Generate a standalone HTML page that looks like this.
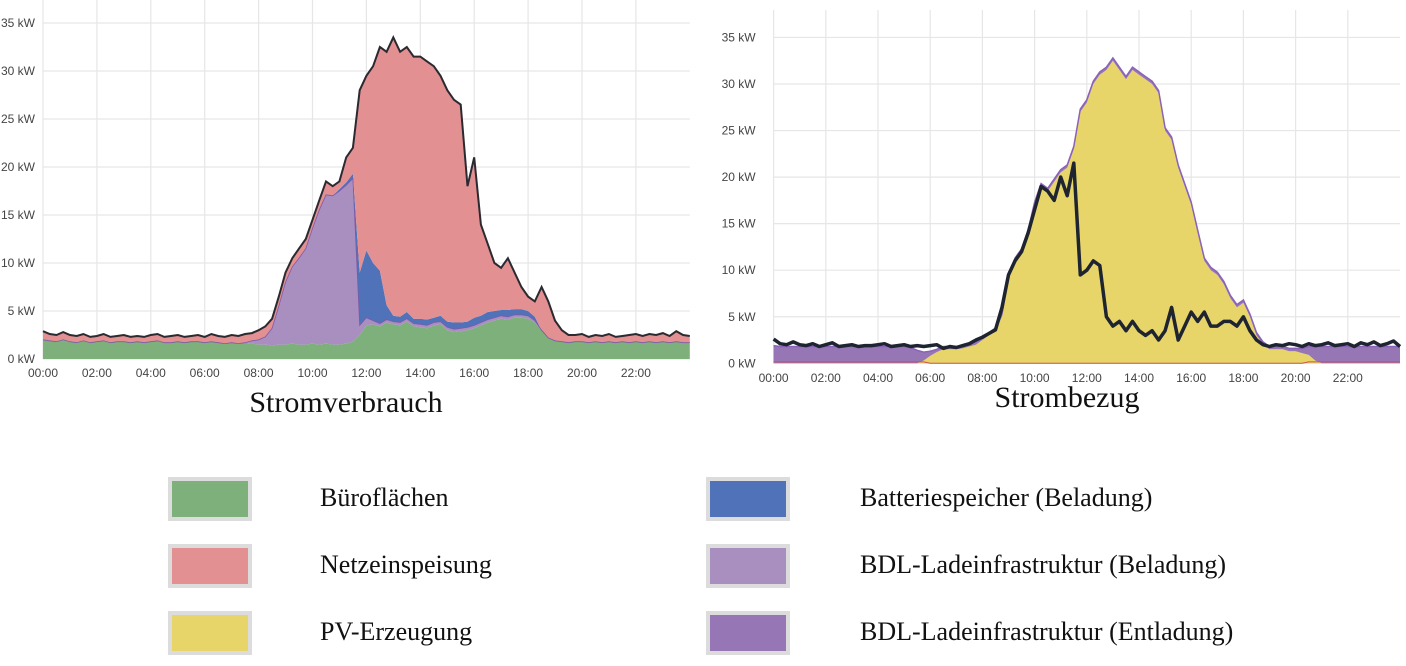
<!DOCTYPE html>
<html><head><meta charset="utf-8"><style>
body{margin:0;background:#fff;width:1406px;height:666px;overflow:hidden;position:relative;font-family:"Liberation Serif",serif}
svg{position:absolute;left:0;top:0}
.title{position:absolute;font-family:"Liberation Serif",serif;font-size:30px;color:#111;transform:translateX(-50%);white-space:nowrap}
.sw{position:absolute;width:76px;height:36px;border:4px solid #dcdcdc}
.lt{position:absolute;font-size:26px;color:#111;white-space:nowrap}
</style></head><body>
<svg id="chart" width="1406" height="400"></svg>
<div class="title" style="left:346px;top:386px">Stromverbrauch</div>
<div class="title" style="left:1067px;top:381px">Strombezug</div>

<div class="sw" style="left:168px;top:477px;background:#7db07a"></div>
<div class="lt" style="left:320px;top:483px">Büroflächen</div>
<div class="sw" style="left:168px;top:544px;background:#e39092"></div>
<div class="lt" style="left:320px;top:550px">Netzeinspeisung</div>
<div class="sw" style="left:168px;top:611px;background:#e8d56a"></div>
<div class="lt" style="left:320px;top:617px">PV-Erzeugung</div>
<div class="sw" style="left:706px;top:477px;background:#4f72b8"></div>
<div class="lt" style="left:860px;top:483px">Batteriespeicher (Beladung)</div>
<div class="sw" style="left:706px;top:544px;background:#a98ec0"></div>
<div class="lt" style="left:860px;top:550px">BDL-Ladeinfrastruktur (Beladung)</div>
<div class="sw" style="left:706px;top:611px;background:#9676b5"></div>
<div class="lt" style="left:860px;top:617px">BDL-Ladeinfrastruktur (Entladung)</div>

<script>
// 15-minute samples, 00:00 .. 24:00 (97 values), kW
const yTicks=[0,5,10,15,20,25,30,35];
const xTickLabels=["00:00","02:00","04:00","06:00","08:00","10:00","12:00","14:00","16:00","18:00","20:00","22:00"];
const leftTotal=[2.9,2.6,2.5,2.8,2.5,2.4,2.6,2.3,2.4,2.6,2.3,2.4,2.5,2.3,2.4,2.3,2.5,2.6,2.3,2.4,2.5,2.3,2.4,2.5,2.3,2.6,2.4,2.3,2.5,2.4,2.6,2.7,
3.0,3.4,4.2,6.5,9.0,10.5,11.5,12.5,14.5,16.5,18.5,18.0,18.5,21.0,22.0,28.0,
29.5,30.5,32.5,32,33.5,32,32.5,31.5,31.5,31,30.5,29.5,28,27,26.5,18,
21,14,12,10,9.5,10.5,9,7.5,6.5,6,7.5,6,4,3,2.5,2.5,
2.6,2.3,2.5,2.4,2.6,2.3,2.4,2.5,2.6,2.4,2.6,2.5,2.7,2.4,2.9,2.5,2.4];
const office=[2.0,1.9,1.8,2.0,1.8,1.7,1.9,1.7,1.8,1.9,1.7,1.8,1.8,1.7,1.8,1.7,1.8,1.9,1.7,1.7,1.8,1.7,1.8,1.8,1.7,1.8,1.7,1.6,1.7,1.6,1.7,1.6,
1.5,1.5,1.4,1.5,1.5,1.6,1.5,1.5,1.6,1.5,1.6,1.5,1.5,1.6,1.8,2.5,
3.5,3.6,3.4,3.8,3.6,3.5,3.9,3.4,3.3,3.2,3.5,3.6,3.0,2.8,2.9,3.0,
3.2,3.5,3.8,4.0,4.2,4.1,4.3,4.3,4.2,3.8,3.0,2.2,1.9,1.8,1.7,1.8,
1.8,1.7,1.8,1.7,1.8,1.7,1.8,1.7,1.8,1.7,1.8,1.7,1.8,1.7,1.8,1.7,1.7];
const bdlCharge=[0,0,0,0,0,0,0,0,0,0,0,0,0,0,0,0,0,0,0,0,0,0,0,0,0,0,0,0,0,0,0,0.3,
0.5,0.8,1.8,4.0,6.5,8.0,9.0,10.0,12,14,15.5,15.5,16,16.5,17,1.0,
0.8,0.4,0.3,0.3,0.3,0.3,0.3,0.3,0.3,0.3,0.3,0.3,0.3,0.3,0.3,0.3,
0.3,0.3,0.3,0.3,0.3,0.3,0.3,0.3,0.3,0.2,0,0,0,0,0,0,
0,0,0,0,0,0,0,0,0,0,0,0,0,0,0,0,0];
const battery=[0,0,0,0,0,0,0,0,0,0,0,0,0,0,0,0,0,0,0,0,0,0,0,0,0,0,0,0,0,0,0,0,
0,0,0,0,0,0,0,0,0,0,0,0,0.2,0.3,0.5,5.5,
7,6,5.5,1.5,0.6,0.6,0.7,0.5,0.6,0.6,0.5,0.6,0.6,0.7,0.6,0.6,
0.8,0.7,0.8,0.7,0.6,0.7,0.6,0.6,0.5,0.4,0,0,0,0,0,0,
0,0,0,0,0,0,0,0,0,0,0,0,0,0,0,0,0];
const pv=[0,0,0,0,0,0,0,0,0,0,0,0,0,0,0,0,0,0,0,0,0,0,0,0.3,
0.8,1.2,1.5,1.5,1.5,1.6,1.8,2.0,
2.5,3.0,3.5,5,9,11,12,14,17,19,18.5,19.5,20.5,21,23,27,
28,30,31,31.5,32.5,31.5,30.5,31.5,31,30.5,30,29,25,24,21,19,
17,14,11,10,9.5,8.5,7,6,6.5,5,3,2,1.5,1.5,1.5,1.3,
1.3,1.1,0.9,0.3,0,0,0,0,0,0,0,0,0,0,0,0,0];
const bdlDischarge=[1.9,1.8,1.8,1.8,1.8,1.8,1.8,1.8,1.8,1.8,1.8,1.8,1.8,1.8,1.8,1.8,1.8,1.8,1.8,1.8,1.8,1.7,1.4,0.9,
0.5,0.3,0.3,0.3,0.3,0.3,0.3,0.3,
0.3,0.3,0.3,0.3,0.3,0.3,0.3,0.3,0.3,0.3,0.3,0.3,0.3,0.3,0.3,0.3,
0.3,0.3,0.3,0.3,0.3,0.3,0.3,0.3,0.3,0.3,0.3,0.3,0.3,0.3,0.3,0.3,
0.3,0.3,0.3,0.3,0.3,0.3,0.3,0.3,0.3,0.3,0.3,0.3,0.3,0.3,0.3,0.3,
0.3,0.5,0.9,1.5,1.8,1.8,1.8,1.8,1.8,1.8,1.8,1.8,1.8,1.8,1.8,1.8,1.8];
const gridDraw=[2.6,2.1,2.0,2.3,2.0,1.9,2.1,1.8,2.0,2.2,1.8,1.9,2.0,1.8,1.9,1.9,2.0,2.1,1.8,1.9,2.0,1.8,1.9,1.8,
1.9,2.0,1.6,1.8,1.7,1.9,2.1,2.5,
2.8,3.2,3.6,6.0,9.5,11.0,12.0,14.0,16.5,19.0,18.5,17.5,20.0,18.0,21.5,9.5,
10.0,11.0,10.5,5.0,4.0,4.5,3.5,4.5,3.5,3.0,3.5,2.5,3.5,6.0,2.5,4.0,
5.5,4.5,5.5,4.0,4.0,4.5,4.5,4.0,5.0,3.5,2.5,2.0,1.8,2.0,1.9,2.1,
2.0,1.8,2.1,1.9,2.0,2.2,1.9,2.0,2.1,1.8,2.2,2.0,2.3,1.9,2.1,2.4,1.8];

const NS="http://www.w3.org/2000/svg";
const svg=document.getElementById('chart');
function mk(tag,attrs,parent){const e=document.createElementNS(NS,tag);for(const k in attrs)e.setAttribute(k,attrs[k]);(parent||svg).appendChild(e);return e;}

function makeChart(cfg){
  const g=mk('g',{});
  
  
  const X=t=>cfg.x0+t*cfg.pxH;
  const Y=v=>cfg.y0-v*cfg.pxK;
  const xEnd=X(24);
  yTicks.forEach(v=>{
    const l=mk('line',{x1:cfg.x0,x2:xEnd,y1:Y(v),y2:Y(v),stroke:'#e6e6e6','stroke-width':1.2},g);
    
    
    const t=mk('text',{x:cfg.x0-cfg.labOff,y:Y(v)+4,'text-anchor':'end','font-family':'Liberation Sans, sans-serif','font-size':12,fill:'#444'},g);
    t.textContent=v+' kW';
    
    
  });
  xTickLabels.forEach((lab,i)=>{
    const x=X(i*2);
    const l=mk('line',{x1:x,x2:x,y1:cfg.top,y2:Y(0),stroke:'#e6e6e6','stroke-width':1.2},g);
    
    
    const t=mk('text',{x:x,y:cfg.xLabY,'text-anchor':'middle','font-family':'Liberation Sans, sans-serif','font-size':12,fill:'#444'},g);
    t.textContent=lab;
    
    
  });
  return {g,X,Y};
}
function areaPath(X,Y,lo,hi){
  let d='';
  for(let i=0;i<hi.length;i++) d+=(i?'L':'M')+X(i*0.25).toFixed(1)+','+Y(hi[i]).toFixed(1);
  for(let i=lo.length-1;i>=0;i--) d+='L'+X(i*0.25).toFixed(1)+','+Y(lo[i]).toFixed(1);
  return d+'Z';
}
function linePath(X,Y,arr){
  let d='';for(let i=0;i<arr.length;i++) d+=(i?'L':'M')+X(i*0.25).toFixed(1)+','+Y(arr[i]).toFixed(1);return d;
}

// LEFT chart
const L=makeChart({name:'chart-stromverbrauch',x0:43,pxH:26.95,y0:359,pxK:9.6,top:0,labOff:8,xLabY:377});
const zero=leftTotal.map(()=>0);
const s1=office.slice();
const s2=s1.map((v,i)=>v+bdlCharge[i]);
const s3=s2.map((v,i)=>v+battery[i]);
const s4=s3.map((v,i)=>Math.max(v,leftTotal[i]));
[[zero,s1,'#7db07a','area-bueroflaechen'],[s1,s2,'#a98ec0','area-bdl-beladung'],[s2,s3,'#4f72b8','area-batterie'],[s3,s4,'#e39092','area-netzeinspeisung']].forEach(a=>{
  const p=mk('path',{d:areaPath(L.X,L.Y,a[0],a[1]),fill:a[2]},L.g);
  
  
});
const lp1=mk('path',{d:linePath(L.X,L.Y,s2),fill:'none',stroke:'#7d5aa8','stroke-width':0.8},L.g);


const lp2=mk('path',{d:linePath(L.X,L.Y,s4),fill:'none',stroke:'#2a2a30','stroke-width':2},L.g);



// RIGHT chart
const R=makeChart({name:'chart-strombezug',x0:773.6,pxH:26.1,y0:363.3,pxK:9.31,top:10,labOff:18,xLabY:382});
const r0=pv.map(()=>0);
const r1=pv.slice();
const r2=r1.map((v,i)=>v+bdlDischarge[i]);
const ra=mk('path',{d:areaPath(R.X,R.Y,r0,r1),fill:'#e8d56a'},R.g);


const rb=mk('path',{d:areaPath(R.X,R.Y,r1,r2),fill:'#9676b5'},R.g);


const rl=mk('path',{d:linePath(R.X,R.Y,r2),fill:'none',stroke:'#8a62b8','stroke-width':1.5},R.g);


const rz=mk('path',{d:linePath(R.X,R.Y,r0.map((v,i)=>bdlDischarge[i]>0.8?0.15:0)),fill:'none',stroke:'#d0504a','stroke-width':1},R.g);


const rk=mk('path',{d:linePath(R.X,R.Y,gridDraw),fill:'none',stroke:'#1e2430','stroke-width':3.5,'stroke-linejoin':'round'},R.g);


</script>
</body></html>
